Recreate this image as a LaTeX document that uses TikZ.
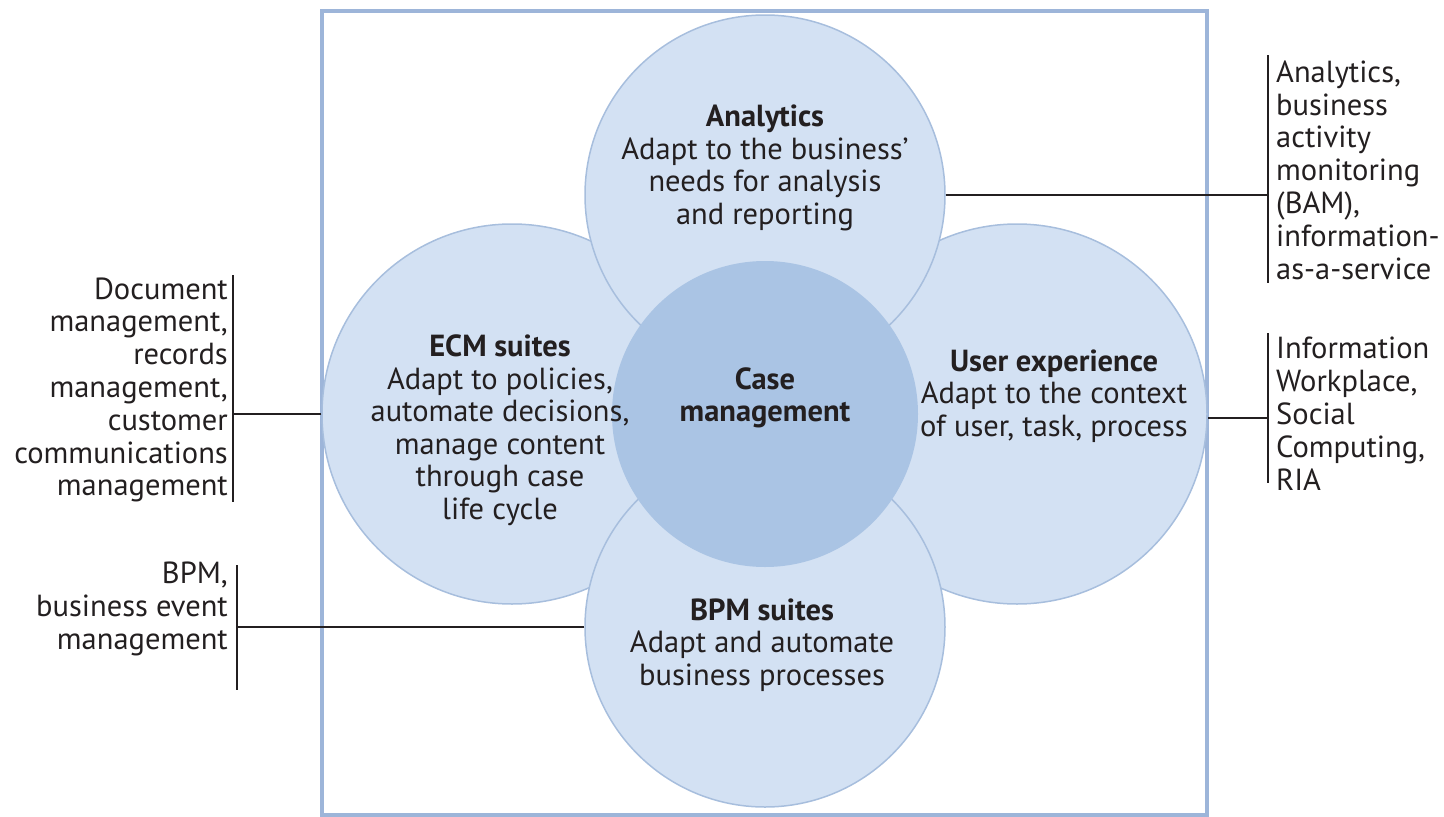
\documentclass[tikz,border=0pt]{standalone}
\usepackage{fontspec}
\setmainfont{PT Sans}
\usetikzlibrary{positioning}

\definecolor{petalfill}{HTML}{D3E1F3}
\definecolor{petaledge}{HTML}{A7BEDD}
\definecolor{corefill}{HTML}{AAC4E4}
\definecolor{framecol}{HTML}{9DB5D9}
\definecolor{inkcol}{HTML}{231F20}

\tikzset{
  petal/.style={circle, draw=petaledge, line width=1.5pt, fill=petalfill, inner sep=0pt},
  core/.style={circle, fill=corefill, inner sep=0pt},
  blurb/.style={align=center, text=inkcol, font=\fontsize{30.5}{32.5}\selectfont, inner sep=0pt},
  sidenote/.style={text=inkcol, font=\fontsize{30.5}{32.8}\selectfont, inner sep=0pt},
  link/.style={draw=inkcol, line width=1.2pt}
}

\begin{document}
\begin{tikzpicture}[x=1pt, y=-1pt]
\useasboundingbox (0,0) rectangle (1444,817);

% frame
\draw[framecol, line width=4pt] (322,11) rectangle (1207,815);

% the four petals and the core
\node[petal, minimum size=380pt] (ecm) at (512,414) {};
\node[petal, minimum size=380pt] (ux) at (1017,414) {};
\node[petal, minimum size=360pt] (ana) at (765,195) {};
\node[petal, minimum size=360pt] (bpm) at (765,627) {};
\node[core, minimum size=306pt] (case) at (765,414) {};

% texts inside
\node[blurb] (anatxt) at ([yshift=27pt]ana.center) {\textbf{Analytics}\\Adapt to the business’\\needs for analysis\\and reporting};
\node[blurb] (ecmtxt) at ([xshift=-12pt, yshift=-16pt]ecm.center) {\textbf{ECM suites}\\Adapt to policies,\\automate decisions,\\manage content\\through case\\life cycle};
\node[blurb] (uxtxt) at ([xshift=37pt, yshift=18pt]ux.center) {\textbf{User experience}\\Adapt to the context\\of user, task, process};
\node[blurb] (bpmtxt) at ([xshift=-3pt, yshift=-18pt]bpm.center) {\textbf{BPM suites}\\Adapt and automate\\business processes};
\node[blurb] (casetxt) at ([yshift=16pt]case.center) {\textbf{Case}\\\textbf{management}};

% side notes
\node[sidenote, align=right, anchor=east] (docs) at (228,390) {Document\\management,\\records\\management,\\customer\\communications\\management};
\node[sidenote, align=right, anchor=north east] (bpmnote) at (228,562) {BPM,\\business event\\management};
\node[sidenote, align=left, anchor=west] (ananote) at (1276,170) {Analytics,\\business\\activity\\monitoring\\(BAM),\\information-\\as-a-service};
\node[sidenote, align=left, anchor=north west] (uxnote) at (1276,337) {Information\\Workplace,\\Social\\Computing,\\RIA};

% brackets
\coordinate (docsbar) at (233,0);
\coordinate (bpmbar) at (237,0);
\coordinate (anabar) at (1268,0);
\coordinate (uxbar) at (1268,0);
\draw[link] (docsbar |- 0,275) -- (docsbar |- 0,502);
\draw[link] (bpmbar |- 0,565) -- (bpmbar |- 0,690);
\draw[link] (anabar |- 0,55) -- (anabar |- 0,283);
\draw[link] (uxbar |- 0,333) -- (uxbar |- 0,483);

% connectors
\draw[link] (ecm.west) -- (ecm.west -| docsbar);
\draw[link] (bpm.west) -- (bpm.west -| bpmbar);
\draw[link] (ana.east) -- (ana.east -| anabar);
\draw[link] ([yshift=-4pt]ux.east) -- ([yshift=-4pt]ux.east -| uxbar);
\end{tikzpicture}
\end{document}
